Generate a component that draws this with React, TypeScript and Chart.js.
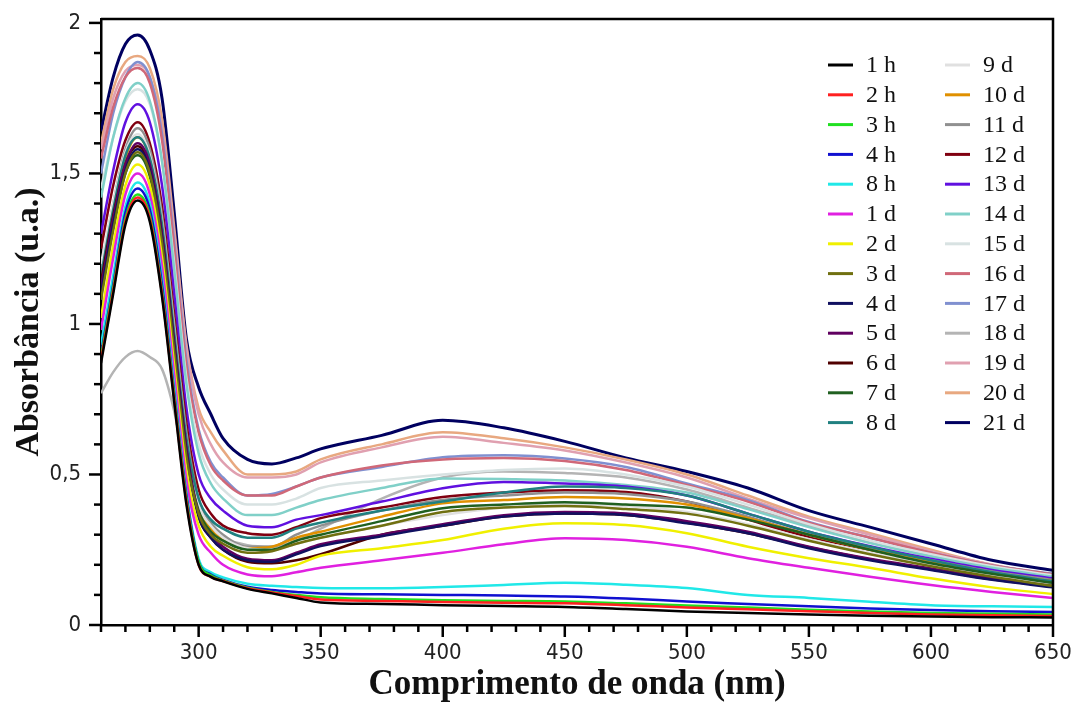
import React, { useEffect, useRef } from "react";
import { Chart, registerables } from "chart.js";

Chart.register(...registerables);

// Wavelength grid (nm)
const wavelengths = [260, 265, 270, 275, 280, 285, 290, 295, 300, 305, 310, 320, 330, 340, 350, 375, 400, 425, 450, 475, 500, 525, 550, 575, 600, 625, 650];

const abs1h = [0.87, 1.10, 1.33, 1.41, 1.34, 1.09, 0.74, 0.40, 0.20, 0.16, 0.145, 0.12, 0.105, 0.09, 0.075, 0.07, 0.066, 0.063, 0.060, 0.053, 0.045, 0.040, 0.035, 0.031, 0.028, 0.026, 0.025];
const abs2h = [0.88, 1.11, 1.34, 1.42, 1.35, 1.10, 0.75, 0.41, 0.20, 0.16, 0.146, 0.122, 0.108, 0.096, 0.085, 0.08, 0.076, 0.074, 0.072, 0.066, 0.058, 0.052, 0.046, 0.040, 0.035, 0.032, 0.030];
const abs3h = [0.89, 1.12, 1.35, 1.43, 1.36, 1.11, 0.76, 0.42, 0.21, 0.165, 0.148, 0.124, 0.11, 0.10, 0.092, 0.086, 0.082, 0.080, 0.078, 0.072, 0.065, 0.058, 0.051, 0.045, 0.040, 0.037, 0.035];
const abs4h = [0.90, 1.13, 1.37, 1.45, 1.38, 1.13, 0.77, 0.43, 0.21, 0.168, 0.15, 0.127, 0.116, 0.11, 0.105, 0.102, 0.100, 0.098, 0.095, 0.088, 0.078, 0.07, 0.062, 0.055, 0.050, 0.046, 0.043];
const abs8h = [0.93, 1.16, 1.39, 1.47, 1.40, 1.15, 0.79, 0.44, 0.22, 0.175, 0.158, 0.137, 0.13, 0.126, 0.123, 0.122, 0.126, 0.133, 0.140, 0.134, 0.123, 0.10, 0.090, 0.077, 0.066, 0.062, 0.060];
const abs1d = [0.98, 1.22, 1.43, 1.50, 1.43, 1.19, 0.83, 0.48, 0.30, 0.24, 0.20, 0.168, 0.162, 0.175, 0.19, 0.215, 0.24, 0.268, 0.288, 0.282, 0.26, 0.222, 0.19, 0.16, 0.133, 0.11, 0.09];
const abs2d = [1.02, 1.26, 1.46, 1.53, 1.46, 1.22, 0.86, 0.51, 0.33, 0.26, 0.23, 0.192, 0.185, 0.20, 0.23, 0.255, 0.282, 0.32, 0.338, 0.332, 0.305, 0.26, 0.222, 0.19, 0.155, 0.125, 0.103];
const abs3d = [1.08, 1.31, 1.50, 1.57, 1.50, 1.27, 0.91, 0.56, 0.37, 0.30, 0.27, 0.24, 0.245, 0.27, 0.29, 0.33, 0.375, 0.39, 0.395, 0.385, 0.37, 0.33, 0.28, 0.235, 0.195, 0.16, 0.13];
const abs4d = [1.10, 1.33, 1.51, 1.58, 1.51, 1.28, 0.92, 0.57, 0.36, 0.29, 0.25, 0.215, 0.21, 0.235, 0.262, 0.295, 0.33, 0.36, 0.37, 0.365, 0.338, 0.305, 0.255, 0.215, 0.183, 0.15, 0.125];
const abs5d = [1.12, 1.35, 1.53, 1.60, 1.53, 1.30, 0.94, 0.59, 0.37, 0.30, 0.26, 0.22, 0.215, 0.24, 0.268, 0.30, 0.335, 0.365, 0.375, 0.37, 0.345, 0.31, 0.26, 0.22, 0.188, 0.155, 0.13];
const abs6d = [1.14, 1.36, 1.53, 1.59, 1.52, 1.29, 0.93, 0.58, 0.36, 0.29, 0.25, 0.21, 0.205, 0.215, 0.235, 0.30, 0.33, 0.36, 0.37, 0.365, 0.34, 0.305, 0.258, 0.218, 0.185, 0.152, 0.127];
const abs7d = [1.10, 1.32, 1.50, 1.56, 1.49, 1.26, 0.90, 0.56, 0.38, 0.31, 0.28, 0.25, 0.25, 0.28, 0.30, 0.345, 0.388, 0.40, 0.408, 0.40, 0.39, 0.35, 0.30, 0.25, 0.205, 0.17, 0.14];
const abs8d = [1.16, 1.38, 1.56, 1.62, 1.55, 1.33, 0.97, 0.62, 0.42, 0.35, 0.32, 0.29, 0.29, 0.32, 0.34, 0.38, 0.41, 0.44, 0.46, 0.455, 0.43, 0.37, 0.31, 0.26, 0.215, 0.175, 0.145];
const abs9d = [1.20, 1.40, 1.57, 1.63, 1.56, 1.34, 0.98, 0.62, 0.40, 0.33, 0.29, 0.255, 0.25, 0.27, 0.29, 0.33, 0.365, 0.39, 0.40, 0.395, 0.375, 0.335, 0.285, 0.24, 0.2, 0.165, 0.138];
const abs10d = [1.14, 1.36, 1.55, 1.62, 1.55, 1.33, 0.97, 0.61, 0.39, 0.32, 0.285, 0.255, 0.26, 0.29, 0.31, 0.36, 0.404, 0.415, 0.425, 0.42, 0.40, 0.355, 0.30, 0.25, 0.21, 0.172, 0.145];
const abs11d = [1.18, 1.40, 1.58, 1.65, 1.58, 1.36, 1.00, 0.64, 0.42, 0.34, 0.30, 0.26, 0.26, 0.30, 0.33, 0.38, 0.415, 0.43, 0.44, 0.435, 0.41, 0.36, 0.30, 0.255, 0.215, 0.178, 0.15];
const abs12d = [1.25, 1.46, 1.61, 1.67, 1.60, 1.39, 1.03, 0.67, 0.45, 0.37, 0.33, 0.305, 0.30, 0.325, 0.355, 0.39, 0.425, 0.44, 0.448, 0.442, 0.41, 0.35, 0.293, 0.25, 0.21, 0.175, 0.148];
const abs13d = [1.30, 1.51, 1.67, 1.73, 1.67, 1.46, 1.10, 0.72, 0.50, 0.42, 0.38, 0.33, 0.325, 0.35, 0.365, 0.41, 0.454, 0.475, 0.47, 0.46, 0.43, 0.37, 0.31, 0.262, 0.22, 0.183, 0.155];
const abs14d = [1.42, 1.62, 1.75, 1.80, 1.74, 1.54, 1.18, 0.80, 0.57, 0.47, 0.42, 0.365, 0.365, 0.39, 0.415, 0.455, 0.487, 0.485, 0.48, 0.465, 0.44, 0.385, 0.325, 0.272, 0.228, 0.19, 0.16];
const abs15d = [1.45, 1.62, 1.74, 1.78, 1.73, 1.54, 1.20, 0.82, 0.60, 0.50, 0.45, 0.40, 0.40, 0.42, 0.455, 0.48, 0.50, 0.515, 0.52, 0.50, 0.46, 0.40, 0.335, 0.28, 0.235, 0.195, 0.165];
const abs16d = [1.55, 1.72, 1.82, 1.85, 1.80, 1.61, 1.25, 0.86, 0.64, 0.53, 0.48, 0.43, 0.43, 0.46, 0.49, 0.53, 0.55, 0.555, 0.545, 0.515, 0.465, 0.41, 0.34, 0.29, 0.24, 0.198, 0.168];
const abs17d = [1.50, 1.70, 1.82, 1.87, 1.82, 1.63, 1.27, 0.88, 0.65, 0.54, 0.49, 0.43, 0.435, 0.46, 0.49, 0.525, 0.557, 0.564, 0.553, 0.525, 0.47, 0.415, 0.342, 0.29, 0.24, 0.198, 0.17];
const abs18d = [0.77, 0.84, 0.89, 0.91, 0.89, 0.85, 0.71, 0.50, 0.38, 0.32, 0.29, 0.265, 0.26, 0.28, 0.32, 0.42, 0.49, 0.51, 0.505, 0.49, 0.45, 0.39, 0.33, 0.275, 0.23, 0.19, 0.16];
const abs19d = [1.58, 1.75, 1.84, 1.86, 1.82, 1.65, 1.30, 0.92, 0.70, 0.60, 0.54, 0.49, 0.49, 0.50, 0.54, 0.59, 0.625, 0.605, 0.58, 0.54, 0.49, 0.42, 0.355, 0.30, 0.245, 0.2, 0.163];
const abs20d = [1.60, 1.78, 1.87, 1.89, 1.85, 1.68, 1.32, 0.93, 0.72, 0.64, 0.58, 0.50, 0.50, 0.51, 0.55, 0.60, 0.64, 0.62, 0.59, 0.55, 0.50, 0.43, 0.36, 0.305, 0.25, 0.2, 0.166];
const abs21d = [1.64, 1.82, 1.93, 1.96, 1.91, 1.75, 1.37, 0.95, 0.79, 0.70, 0.62, 0.55, 0.535, 0.555, 0.585, 0.63, 0.68, 0.655, 0.61, 0.555, 0.51, 0.455, 0.38, 0.325, 0.27, 0.215, 0.182];

const seriesLabels = ["1 h", "2 h", "3 h", "4 h", "8 h", "1 d", "2 d", "3 d", "4 d", "5 d", "6 d", "7 d", "8 d",
  "9 d", "10 d", "11 d", "12 d", "13 d", "14 d", "15 d", "16 d", "17 d", "18 d", "19 d", "20 d", "21 d"];
const seriesValues = [abs1h, abs2h, abs3h, abs4h, abs8h, abs1d, abs2d, abs3d, abs4d, abs5d, abs6d, abs7d, abs8d,
  abs9d, abs10d, abs11d, abs12d, abs13d, abs14d, abs15d, abs16d, abs17d, abs18d, abs19d, abs20d, abs21d];
const seriesColors = ["#000000", "#ff2020", "#20e020", "#1010d0", "#20e8e8", "#e020e0", "#f0f000", "#707010", "#101060", "#600060", "#500000", "#206020", "#208080",
  "#e0e0e0", "#e09000", "#909090", "#800010", "#6010e0", "#80d0c8", "#d8e2e2", "#d06878", "#8090d0", "#b4b4b4", "#e0a0b0", "#e8a880", "#000060"];

const xTickValues = [300, 350, 400, 450, 500, 550, 600, 650];
const yTickValues = [0, 0.5, 1, 1.5, 2];

const tickFont = "'DejaVu Sans Condensed', 'Liberation Sans', sans-serif";
const serifFont = "'Liberation Serif', 'Times New Roman', serif";

const zeroPad = (s: any) => {
  s.paddingLeft = 0;
  s.paddingRight = 0;
  s.paddingTop = 0;
  s.paddingBottom = 0;
};

const framePlugin = {
  id: "frameAndLegend",
  afterDraw(chart: any) {
    const { ctx, chartArea: a } = chart;
    const xs = chart.scales.x;
    const ys = chart.scales.y;
    ctx.save();
    ctx.strokeStyle = "#000";
    ctx.lineWidth = 2.5;
    ctx.beginPath();
    ctx.moveTo(a.left, a.top);
    ctx.lineTo(a.right, a.top);
    ctx.lineTo(a.right, a.bottom);
    ctx.stroke();
    for (let v = 260; v <= 650; v += 10) {
      const px = xs.getPixelForValue(v);
      const len = v % 50 === 0 ? 12 : 7;
      ctx.beginPath();
      ctx.moveTo(px, a.bottom);
      ctx.lineTo(px, a.bottom + len);
      ctx.stroke();
    }
    for (let k = 0; k <= 20; k++) {
      const py = ys.getPixelForValue(k / 10);
      const len = k % 5 === 0 ? 12 : 7;
      ctx.beginPath();
      ctx.moveTo(a.left - len, py);
      ctx.lineTo(a.left, py);
      ctx.stroke();
    }
    // legend (two columns)
    const rows = 13;
    const colX = [828, 945];
    const textX = [866, 983];
    const rowY0 = 65;
    const rowH = 29.8;
    ctx.font = "24px " + serifFont;
    ctx.textBaseline = "middle";
    ctx.textAlign = "left";
    chart.data.datasets.forEach((ds: any, i: number) => {
      const col = Math.floor(i / rows);
      const row = i % rows;
      const y = rowY0 + row * rowH;
      ctx.strokeStyle = ds.borderColor;
      ctx.lineWidth = 3;
      ctx.beginPath();
      ctx.moveTo(colX[col], y);
      ctx.lineTo(colX[col] + 25, y);
      ctx.stroke();
      ctx.fillStyle = "#111";
      ctx.fillText(ds.label, textX[col], y + 1);
    });
    ctx.restore();
  },
};

export default function App() {
  const ref = useRef<HTMLCanvasElement>(null);
  useEffect(() => {
    if (!ref.current) return;
    const datasets = seriesLabels.map((label, i) => ({
      label,
      data: wavelengths.map((w, j) => ({ x: w, y: seriesValues[i][j] })),
      borderColor: seriesColors[i],
      backgroundColor: seriesColors[i],
      borderWidth: i === 25 ? 3 : 2.5,
      pointRadius: 0,
      cubicInterpolationMode: "monotone" as const,
      fill: false,
    }));
    const chart = new Chart(ref.current, {
      type: "line",
      data: { datasets },
      options: {
        responsive: false,
        animation: false,
        layout: { padding: { left: 0, right: 21, top: 19, bottom: 0 } },
        plugins: { legend: { display: false }, tooltip: { enabled: false } },
        scales: {
          x: {
            type: "linear",
            min: 260,
            max: 650,
            afterBuildTicks: (s: any) => { s.ticks = xTickValues.map((v) => ({ value: v })); },
            afterFit: (s: any) => { s.height = 83; zeroPad(s); },
            grid: { display: false, drawTicks: false },
            border: { display: true, color: "#000", width: 2.5 },
            ticks: { color: "#222", font: { family: tickFont, size: 22 }, padding: 15, maxRotation: 0, autoSkip: false },
            title: { display: true, text: "Comprimento de onda (nm)", color: "#111", font: { family: serifFont, size: 35, weight: "bold" }, padding: { top: 0, bottom: 2 } },
          },
          y: {
            type: "linear",
            min: 0,
            max: 2.013,
            afterBuildTicks: (s: any) => { s.ticks = yTickValues.map((v) => ({ value: v })); },
            afterFit: (s: any) => { s.width = 101; zeroPad(s); },
            grid: { display: false, drawTicks: false },
            border: { display: true, color: "#000", width: 2.5 },
            ticks: {
              color: "#222",
              font: { family: tickFont, size: 22 },
              padding: 20,
              autoSkip: false,
              callback: (v: any) => String(v).replace(".", ","),
            },
            title: { display: true, text: "Absorbância (u.a.)", color: "#111", font: { family: serifFont, size: 34, weight: "bold" }, padding: { top: 9, bottom: 0 } },
          },
        },
      },
      plugins: [framePlugin],
    });
    return () => chart.destroy();
  }, []);
  return (
    <div style={{ position: "absolute", left: 0, top: 0, width: 1074, height: 708, background: "#fff" }}>
      <canvas ref={ref} width={1074} height={708} />
    </div>
  );
}
